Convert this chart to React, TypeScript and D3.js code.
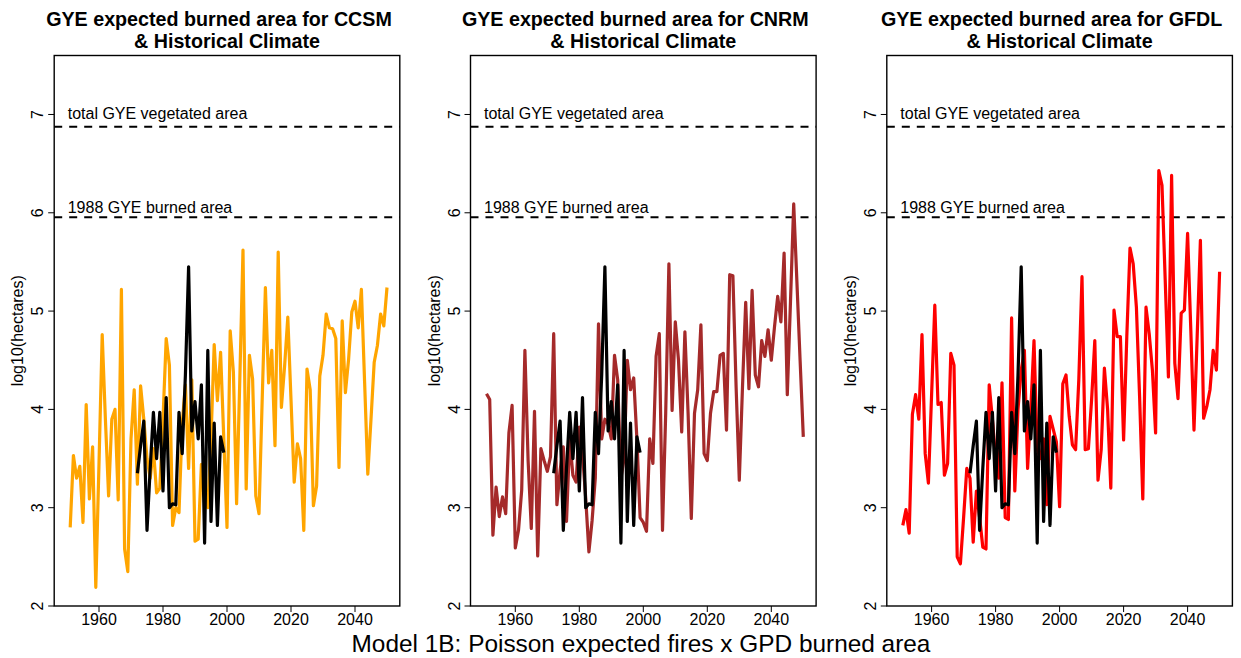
import React from 'react';
import * as d3 from 'd3';

// ---------- data ----------
const modelStartYear = 1951;
const modelEndYear = 2050;
const obsStartYear = 1972;
const obsEndYear = 1999;

const modelNames = ['CCSM', 'CNRM', 'GFDL'];
const modelColors = ['#FFA500', '#A52A2A', '#FF0000'];

const ccsm = [
  2.80, 3.53, 3.30, 3.42, 2.85, 4.05, 3.09, 3.62, 2.19, 3.45,
  4.76, 3.90, 3.12, 3.90, 4.00, 3.08, 5.22, 2.58, 2.35, 3.70,
  4.20, 3.24, 4.24, 3.90, 3.50, 3.30, 3.60, 3.15, 3.20, 3.90,
  4.72, 4.45, 2.82, 3.00, 2.95, 3.85, 4.25, 3.40, 4.30, 2.66,
  2.68, 3.44, 3.10, 3.00, 3.70, 4.66, 4.09, 4.58, 3.70, 2.80,
  4.80, 4.38, 3.04, 4.30, 5.62, 3.19, 4.55, 4.31, 3.12, 2.94,
  4.10, 5.24, 4.27, 4.60, 3.63, 5.60, 4.02, 4.44, 4.94, 4.10,
  3.26, 3.65, 3.50, 2.77, 4.41, 4.20, 3.02, 3.22, 4.34, 4.55,
  4.97, 4.83, 4.82, 4.72, 3.41, 4.90, 4.17, 4.51, 4.99, 5.10,
  4.83, 5.22, 4.28, 3.34, 3.90, 4.48, 4.65, 4.97, 4.85, 5.24,
];

const cnrm = [
  4.16, 4.10, 2.72, 3.21, 2.91, 3.11, 2.94, 3.76, 4.04, 2.59,
  2.77, 3.18, 4.60, 3.48, 2.79, 3.98, 2.51, 3.60, 3.48, 3.37,
  3.52, 4.77, 3.03, 3.38, 3.62, 2.86, 3.70, 3.33, 3.26, 3.82,
  3.55, 3.10, 2.55, 2.87, 3.30, 4.87, 3.70, 3.90, 3.85, 3.70,
  4.55, 4.30, 3.30, 3.50, 4.50, 4.20, 4.32, 3.70, 2.90, 2.85,
  2.76, 3.70, 3.45, 4.54, 4.77, 2.77, 3.96, 5.48, 3.99, 4.89,
  4.50, 3.77, 4.79, 3.96, 2.89, 3.96, 4.20, 4.86, 3.55, 3.48,
  3.96, 4.18, 4.18, 4.55, 4.57, 3.79, 5.37, 5.36, 4.23, 3.28,
  4.23, 5.09, 4.21, 5.21, 4.35, 4.23, 4.70, 4.54, 4.81, 4.50,
  4.84, 5.15, 4.89, 5.59, 4.15, 5.10, 6.09, 5.30, 4.50, 3.72,
];

const gfdl = [
  2.82, 2.98, 2.74, 3.95, 4.15, 3.90, 4.76, 3.55, 3.25, 4.15,
  5.06, 4.05, 4.07, 3.33, 3.45, 4.57, 4.45, 2.50, 2.43, 2.90,
  3.40, 3.30, 2.65, 3.17, 2.90, 2.60, 2.58, 4.25, 3.90, 3.50,
  3.30, 4.27, 2.90, 2.88, 4.93, 3.17, 4.00, 4.40, 4.60, 3.40,
  4.00, 4.70, 3.60, 3.50, 3.70, 3.03, 3.93, 3.80, 3.67, 3.01,
  4.26, 4.35, 3.93, 3.64, 3.59, 4.30, 5.35, 3.59, 3.60, 4.10,
  4.70, 3.28, 3.59, 4.42, 4.00, 3.20, 5.01, 4.74, 4.74, 3.69,
  4.74, 5.64, 5.48, 5.04, 4.13, 3.09, 5.04, 4.77, 4.40, 3.76,
  6.43, 6.28, 5.32, 4.33, 6.38, 4.47, 4.11, 4.98, 5.01, 5.79,
  4.81, 3.79, 4.75, 5.72, 3.91, 4.03, 4.20, 4.60, 4.40, 5.40,
];

const observed = [
  3.35, 3.63, 3.88, 2.77, 3.40, 3.97, 3.50, 3.97, 3.17, 4.12,
  3.00, 3.04, 3.03, 3.97, 3.55, 4.35, 5.45, 3.78, 4.08, 3.70,
  4.25, 2.64, 4.60, 2.86, 3.86, 2.82, 3.72, 3.56,
];

const refValues = [6.876, 5.954];
const refLabels = ['total GYE vegetated area', '1988 GYE burned area'];
const refLabelOffsets = [7.7, 4];
const xTicks = [1960, 1980, 2000, 2020, 2040];
const yTicks = [2, 3, 4, 5, 6, 7];
const xDomain = [1946, 2054];
const yDomain = [2, 7.6];

const mainTitle = 'Model 1B: Poisson expected fires x GPD burned area';
const yLabel = 'log10(hectares)';

// ---------- layout ----------
const W = 1241;
const H = 658;
const panelLefts = [54.2, 470.5, 886.8];
const panelWidth = 345.6;
const plotTop = 55.5;
const plotBottom = 606;
const FONT = '"Liberation Sans", Arial, Helvetica, sans-serif';

const modelYears = d3.range(modelStartYear, modelEndYear + 1);
const obsYears = d3.range(obsStartYear, obsEndYear + 1);
const modelSeries = [ccsm, cnrm, gfdl];

function Panel({ idx }: { idx: number }) {
  const left = panelLefts[idx];
  const right = left + panelWidth;
  const x = d3.scaleLinear().domain(xDomain).range([left, right]);
  const y = d3.scaleLinear().domain(yDomain).range([plotBottom, plotTop]);
  const line = d3
    .line<[number, number]>()
    .x((d) => x(d[0]))
    .y((d) => y(d[1]));
  const modelPts: [number, number][] = modelYears.map((yr, i) => [yr, modelSeries[idx][i]]);
  const obsPts: [number, number][] = obsYears.map((yr, i) => [yr, observed[i]]);
  const cx = left + panelWidth / 2;

  return (
    <g>
      {/* title */}
      <text x={cx - 8} y={26} textAnchor="middle" fontFamily={FONT} fontWeight="bold" fontSize={19.7} fill="#000">
        {`GYE expected burned area for ${modelNames[idx]}`}
      </text>
      <text x={cx} y={48} textAnchor="middle" fontFamily={FONT} fontWeight="bold" fontSize={19.7} fill="#000">
        & Historical Climate
      </text>

      {/* reference lines */}
      {refValues.map((v, i) => (
        <g key={i}>
          <line x1={left} x2={right} y1={y(v)} y2={y(v)} stroke="#000" strokeWidth={2} strokeDasharray="8 7" />
          <text x={left + 13.5} y={y(v) - refLabelOffsets[i]} fontFamily={FONT} fontSize={16} fill="#000">
            {refLabels[i]}
          </text>
        </g>
      ))}

      {/* series */}
      <path d={line(modelPts) || ''} fill="none" stroke={modelColors[idx]} strokeWidth={3.2} strokeLinejoin="round" />
      <path d={line(obsPts) || ''} fill="none" stroke="#000" strokeWidth={3.2} strokeLinejoin="round" />

      {/* frame */}
      <rect x={left} y={plotTop} width={panelWidth} height={plotBottom - plotTop} fill="none" stroke="#000" strokeWidth={1.4} />

      {/* x axis */}
      {xTicks.map((t) => (
        <g key={t}>
          <line x1={x(t)} x2={x(t)} y1={plotBottom} y2={plotBottom + 6} stroke="#000" strokeWidth={1} />
          <text x={x(t)} y={625} textAnchor="middle" fontFamily={FONT} fontSize={16} fill="#000">
            {t}
          </text>
        </g>
      ))}

      {/* y axis */}
      {yTicks.map((t) => (
        <g key={t}>
          <line x1={left - 6} x2={left} y1={y(t)} y2={y(t)} stroke="#000" strokeWidth={1} />
          <text
            transform={`translate(${left - 11},${y(t)}) rotate(-90)`}
            textAnchor="middle"
            fontFamily={FONT}
            fontSize={16}
            fill="#000"
          >
            {t}
          </text>
        </g>
      ))}
      <text
        transform={`translate(${left - 31},${(plotTop + plotBottom) / 2}) rotate(-90)`}
        textAnchor="middle"
        fontFamily={FONT}
        fontSize={16}
        fill="#000"
      >
        {yLabel}
      </text>
    </g>
  );
}

export default function App() {
  return (
    <svg
      width={W}
      height={H}
      viewBox={`0 0 ${W} ${H}`}
      style={{ position: 'absolute', left: 0, top: 0, background: '#fff', display: 'block' }}
    >
      <rect x={0} y={0} width={W} height={H} fill="#fff" />
      {modelNames.map((_, i) => (
        <Panel key={i} idx={i} />
      ))}
      <text x={641} y={652} textAnchor="middle" fontFamily={FONT} fontSize={24.4} fill="#000">
        {mainTitle}
      </text>
    </svg>
  );
}
